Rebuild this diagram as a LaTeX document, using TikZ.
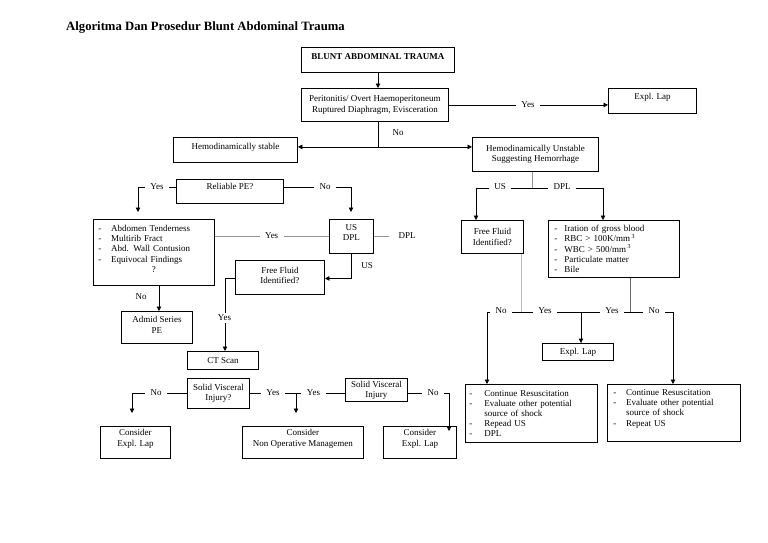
\documentclass[tikz,border=0pt]{standalone}
\usepackage{fontspec}
\setmainfont{Liberation Serif}
\usetikzlibrary{arrows.meta}
\newcommand\dfont{\fontsize{9}{10.2}\selectfont}
\newcommand\ditem[2]{\makebox[#1][l]{-}#2}
\begin{document}
\begin{tikzpicture}[x=1pt,y=-1pt,
  box/.style={draw, line width=0.9pt, anchor=north west, inner xsep=3pt, inner ysep=2pt, align=center, font=\dfont},
  lbox/.style={box, align=left},
  lbl/.style={fill=white, inner xsep=5.5pt, inner ysep=2pt, font=\dfont},
  txt/.style={inner sep=0pt, font=\dfont},
  ln/.style={line width=0.8pt, draw=black},
  gln/.style={line width=0.8pt, draw=black!42},
  lgln/.style={line width=0.8pt, draw=black!28},
  dgln/.style={line width=0.8pt, draw=black!60},
  arr/.style={ln, -{Triangle[length=4.5pt,width=4.5pt]}},
  up/.style={text height=6.5pt, text depth=#1},
]
\useasboundingbox (0,0) rectangle (768,543);
\node[anchor=base west, inner sep=0pt, font=\fontsize{12.7}{15}\selectfont\bfseries] (title) at (66,31) {Algoritma Dan Prosedur Blunt Abdominal Trauma};

% boxes
\node[box, minimum width=153pt, minimum height=25pt, up=6.5pt, font=\dfont\bfseries] (b1) at (301,47) {BLUNT ABDOMINAL TRAUMA};
\node[box, minimum width=147pt, minimum height=33pt] (b2) at (301,88) {Peritonitis/ Overt Haemoperitoneum\\Ruptured Diaphragm, Evisceration};
\node[box, minimum width=88pt, minimum height=25pt, up=8.5pt] (b5) at (608,88) {Expl. Lap};
\node[box, minimum width=124pt, minimum height=25pt, up=7.1pt] (b3) at (173,137) {Hemodinamically stable};
\node[box, minimum width=126pt, minimum height=34pt] (b4) at (472,137) {Hemodinamically Unstable\\Suggesting Hemorrhage};
\node[box, minimum width=107pt, minimum height=24pt, up=10.5pt] (rpe) at (176,179) {Reliable PE?};
\node[lbox, minimum width=121pt, minimum height=66pt, inner xsep=5pt, text width=111pt] (abd) at (93,219) {\ditem{12.7pt}{Abdomen Tenderness}\\ \ditem{12.7pt}{Multirib Fract}\\ \ditem{12.7pt}{Abd. Wall Contusion}\\ \ditem{12.7pt}{Equivocal Findings}\\ \makebox[111pt]{?}\\[-3pt]\mbox{}};
\node[box, minimum width=44pt, minimum height=34pt] (usdpl) at (329,219) {US\\DPL\\[-3pt]\mbox{}};
\node[box, minimum width=89pt, minimum height=34pt] (ffl) at (235,260) {Free Fluid\\Identified?\\[-6pt]\mbox{}};
\node[box, minimum width=71pt, minimum height=32pt] (admid) at (121,311) {Admid Series\\PE\\[-5pt]\mbox{}};
\node[box, minimum width=71pt, minimum height=18pt] (ct) at (187,351) {CT Scan};
\node[box, minimum width=62pt, minimum height=30pt] (svl) at (187,378) {Solid Visceral\\Injury?};
\node[box, minimum width=62pt, minimum height=23pt] (svr) at (345,378) {Solid Visceral\\Injury};
\node[box, minimum width=70pt, minimum height=32pt] (cel) at (100,426) {Consider\\Expl. Lap\\[-1pt]\mbox{}};
\node[box, minimum width=121pt, minimum height=32pt] (cno) at (242,426) {Consider\\Non Operative Managemen\\[-1pt]\mbox{}};
\node[box, minimum width=73pt, minimum height=32pt] (cer) at (383,426) {Consider\\Expl. Lap\\[-1pt]\mbox{}};
\node[box, minimum width=62pt, minimum height=33pt] (ffr) at (461,220) {Free Fluid\\Identified?};
\node[lbox, minimum width=131pt, minimum height=57pt, inner xsep=6pt, text width=119pt] (dplb) at (548,220) {\ditem{10pt}{Iration of gross blood}\\ \ditem{10pt}{RBC > 100K/mm\,\textsuperscript{3}}\\ \ditem{10pt}{WBC > 500/mm\,\textsuperscript{3}}\\ \ditem{10pt}{Particulate matter}\\ \ditem{10pt}{Bile}};
\node[box, minimum width=71pt, minimum height=17pt] (el2) at (542,343) {Expl. Lap};
\node[lbox, minimum width=132pt, minimum height=58pt, inner xsep=4pt, text width=124pt] (cr1) at (465,384) {\ditem{15pt}{Continue Resuscitation}\\ \ditem{15pt}{Evaluate other potential}\\ \hspace*{15pt}source of shock\\ \ditem{15pt}{Repead US}\\ \ditem{15pt}{DPL}};
\node[lbox, minimum width=133pt, minimum height=57pt, inner xsep=6pt, text width=121pt] (cr2) at (607,384) {\ditem{12.7pt}{Continue Resuscitation}\\ \ditem{12.7pt}{Evaluate other potential}\\ \hspace*{12.7pt}source of shock\\ \ditem{12.7pt}{Repeat US}\\ \mbox{}};

% connectors
\draw[arr] ([xshift=77pt]b1.south west) -- ([xshift=77pt]b2.north west);
\draw[arr] (b2.east) -- (b2.east -| b5.west);
\draw[ln] ([xshift=77pt]b2.south west) -- ++(0,25) coordinate (j1);
\draw[arr] (j1) -- (j1 -| b3.east);
\draw[arr] (j1) -- (j1 -| b4.west);

\draw[gln] ([xshift=60pt]b4.south west) -- ++(0,16) coordinate (j2);
\draw[arr] (j2) -| ([xshift=15pt]ffr.north west);
\draw[arr] (j2) -| ([xshift=55pt]dplb.north west);

\draw[arr] ([yshift=4pt]rpe.west) -| ([xshift=45pt,yshift=7pt]abd.north west);
\draw[arr] ([yshift=4pt]rpe.east) -| ([xshift=22pt,yshift=7pt]usdpl.north west);
\draw[gln] ([yshift=-17pt]usdpl.north west) -- ([yshift=-17pt]usdpl.north west -| abd.east);
\draw[gln] ([yshift=-17pt]usdpl.north east) -- ++(15,0) coordinate (dplend);
\draw[arr] ([xshift=22pt]usdpl.south west) |- ([yshift=-1pt]ffl.east);
\draw[arr] ([yshift=-1pt]ffl.west) -| ([xshift=38pt]ct.north west);
\draw[arr] ([xshift=66pt]abd.south west) -- ([xshift=38pt]admid.north west);

\draw[arr] ([yshift=-15pt]svl.north west) -| ([xshift=32pt,yshift=13pt]cel.north west);
\draw[ln] ([yshift=-15pt]svl.north east) -- ([yshift=-15pt]svl.north east -| svr.west);
\draw[arr] ([xshift=54pt,yshift=-15pt]cno.north west |- svl.north east) -- ([xshift=54pt,yshift=13pt]cno.north west);
\draw[arr] ([yshift=-15pt]svr.north east) -| ([xshift=66pt,yshift=-5pt]cer.north west);

\draw[lgln] ([xshift=60pt]ffr.south west) -- ++(0,58) coordinate (j3);
\coordinate (dplbot) at ([xshift=82pt]dplb.south west);
\draw[dgln] (dplbot) -- (dplbot |- j3);
\draw[arr] (j3) -| ([xshift=22pt]cr1.north west);
\draw[arr] (j3) -| ([xshift=66pt]cr2.north west);
\draw[arr] ([xshift=39pt]el2.north west |- j3) -- ([xshift=39pt]el2.north west);

% labels
\node[lbl] (lyes1) at (528,104.5) {Yes};
\node[txt] (lno1) at (398,133) {No};
\node[lbl] (lus1) at (500,187) {US};
\node[lbl] (ldpl1) at (562,187) {DPL};
\node[lbl] (lyes2) at (157,187) {Yes};
\node[lbl] (lno2) at (325,187) {No};
\node[lbl] (lyes3) at (271.7,236) {Yes};
\node[txt] (ldpl2) at (407,236) {DPL};
\node[txt] (lus2) at (367,265.5) {US};
\node[lbl] (lyes4) at (224.5,318) {Yes};
\node[txt] (lno3) at (141,297) {No};
\node[lbl] (lno4) at (156,393) {No};
\node[lbl] (lyes5) at (273,393) {Yes};
\node[lbl] (lyes6) at (313.5,393) {Yes};
\node[lbl] (lno5) at (433,393) {No};
\node[lbl] (lno6) at (501,311) {No};
\node[lbl] (lyes7) at (545,311) {Yes};
\node[lbl] (lyes8) at (612,311) {Yes};
\node[lbl] (lno7) at (654,311) {No};
\end{tikzpicture}
\end{document}
